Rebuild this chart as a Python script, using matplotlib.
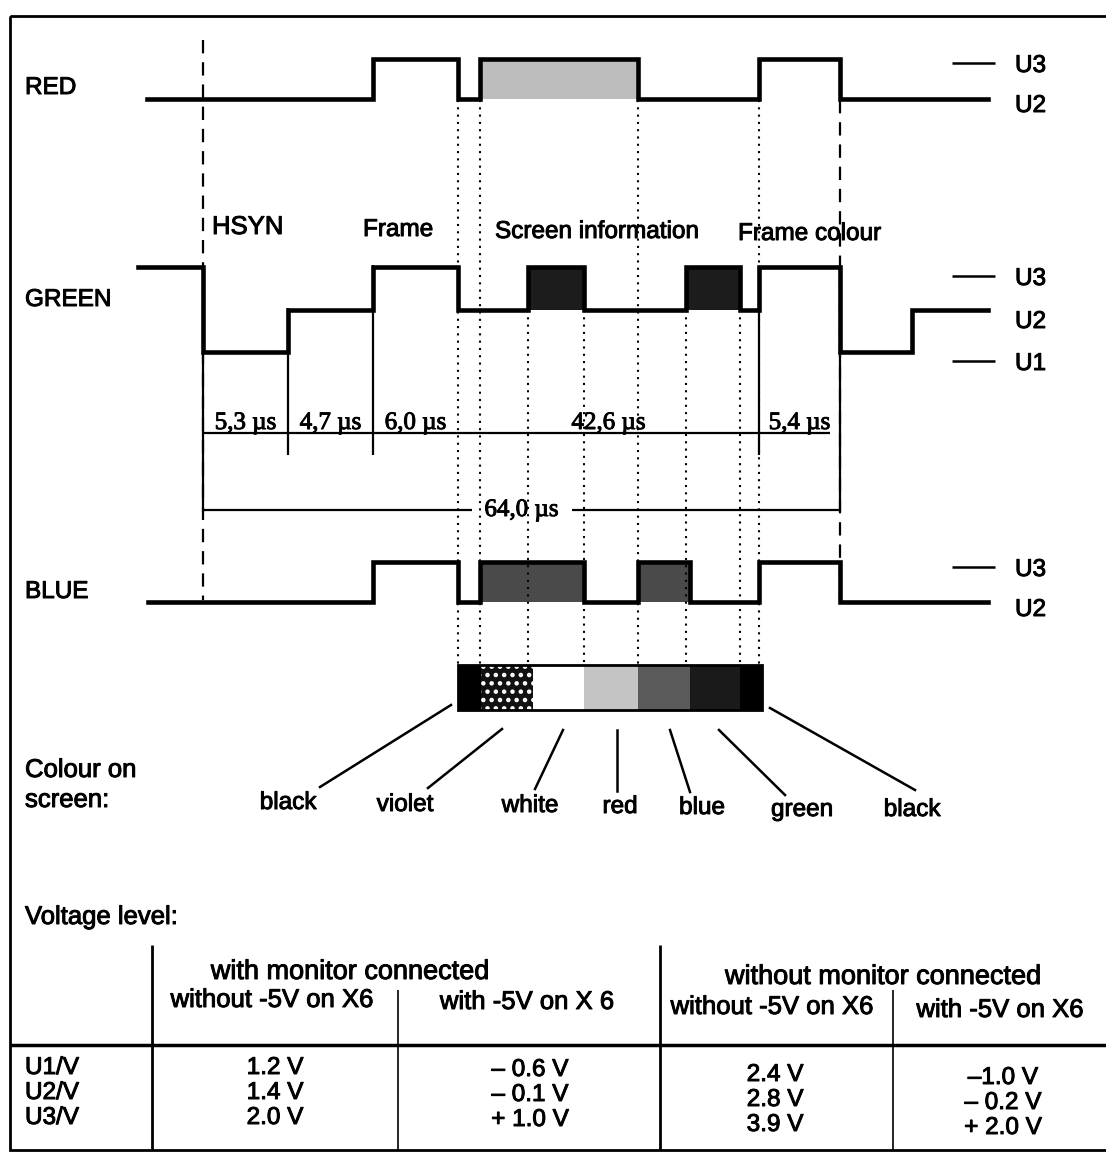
import matplotlib.pyplot as plt
import matplotlib.patheffects as pe
from matplotlib.patches import Rectangle

# --- waveforms: edge positions (diagram time axis) and the level held after each edge
red_edges = [147, 373, 458, 480, 638, 759, 840, 988]
red_levels = ["U2", "U3", "U2", "U3", "U2", "U3", "U2"]
green_edges = [138, 203, 288, 373, 458, 528, 584, 686, 740, 759, 840, 912, 988]
green_levels = ["U3", "U1", "U2", "U3", "U2", "U3", "U2", "U3", "U2", "U3", "U1", "U2"]
blue_edges = [148, 373, 458, 480, 584, 638, 690, 759, 840, 988]
blue_levels = ["U2", "U3", "U2", "U3", "U2", "U3", "U2", "U3", "U2"]

# shaded information blocks (start, end)
red_blocks = [(480, 638)]
green_blocks = [(528, 584), (686, 740)]
blue_blocks = [(480, 584), (638, 690)]

# timing annotations
seg_edges = [203, 288, 373, 458, 759, 840]
seg_labels = ["5,3 µs", "4,7 µs", "6,0 µs", "42,6 µs", "5,4 µs"]
total_label = "64,0 µs"

# colour on screen
bar_edges = [458, 481, 533, 584, 638, 690, 740, 762]
bar_names = ["black", "violet", "white", "red", "blue", "green", "black"]

# voltage table
row_names = ["U1/V", "U2/V", "U3/V"]
with_mon_no5v = ["1.2 V", "1.4 V", "2.0 V"]
with_mon_5v = ["\u2013 0.6 V", "\u2013 0.1 V", "+ 1.0 V"]
without_mon_no5v = ["2.4 V", "2.8 V", "3.9 V"]
without_mon_5v = ["\u20131.0 V", "\u2013 0.2 V", "+ 2.0 V"]

SANS = "Liberation Sans"
SERIF = "Liberation Serif"
ink = [pe.withStroke(linewidth=0.7, foreground="black")]

fig = plt.figure(figsize=(11.06, 11.52), dpi=100)
ax = fig.add_axes([0, 0, 1, 1])
ax.set_xlim(0, 1106)
ax.set_ylim(1152, 0)
ax.axis("off")


def txt(x, y, s, size=17.5, family=SANS, **kw):
    ax.text(x, y, s, fontsize=size, family=family, va="center", path_effects=ink, **kw)


# outer frame
ax.add_patch(Rectangle((10, 16), 1110, 1134, fill=False, lw=2, ec="black"))

rows = {
    "RED": {"U2": 99, "U3": 59},
    "GREEN": {"U1": 352, "U2": 310, "U3": 267},
    "BLUE": {"U2": 602, "U3": 562},
}
right_shift = {"RED": 4, "GREEN": 9, "BLUE": 5}
label_y = {"RED": 88, "GREEN": 300, "BLUE": 592}
block_col = {"RED": "#bdbdbd", "GREEN": "#1c1c1c", "BLUE": "#4a4a4a"}

# dashed sync lines and dotted timing guides
ax.vlines([203], 40, 600, colors="black", lw=1.6, linestyles=(0, (6, 4)))
ax.vlines([840], 100, 600, colors="black", lw=1.6, linestyles=(0, (6, 4)))
ax.vlines([458, 480, 638, 759], 100, 665, colors="black", lw=1.5, linestyles=(0, (1, 2.5)))
ax.vlines([528, 584, 686, 740], 310, 665, colors="black", lw=1.5, linestyles=(0, (1, 2.5)))

waves = [("RED", red_edges, red_levels, red_blocks),
         ("GREEN", green_edges, green_levels, green_blocks),
         ("BLUE", blue_edges, blue_levels, blue_blocks)]
for name, edges, levels, blocks in waves:
    lv = rows[name]
    for b0, b1 in blocks:
        ax.fill_between([b0, b1], lv["U2"], lv["U3"], color=block_col[name], lw=0)
    ys = [lv[l] for l in levels] + [lv[levels[-1]]]
    ax.step(edges, ys, where="post", color="black", lw=3.3, solid_joinstyle="miter")
    txt(25, label_y[name], name)
    for u, y in lv.items():
        yy = y + right_shift[name]
        if u != levels[-1]:
            ax.hlines(yy, 952, 995, colors="black", lw=1.8)
        txt(1015, yy + 3, u)

# section titles
txt(212, 227, "HSYN", size=18.5)
txt(363, 230, "Frame")
txt(495, 232, "Screen information")
txt(738, 234, "Frame colour")

# duration measurements
ax.hlines(433, seg_edges[0], 830, colors="black", lw=1.6)
ax.vlines([288, 373, 759], [308, 265, 268], 455, colors="black", lw=1.6)
ax.vlines([203], 352, 512, colors="black", lw=1.6)
ax.vlines([840], 352, 512, colors="black", lw=1.6)
for i, lab in enumerate(seg_labels):
    xc = (seg_edges[i] + seg_edges[i + 1]) / 2
    txt(xc, 423, lab, size=18, family=SERIF, ha="center")
xm = (seg_edges[0] + seg_edges[-1]) / 2
ax.hlines(510, seg_edges[0], xm - 50, colors="black", lw=1.6)
ax.hlines(510, xm + 50, seg_edges[-1], colors="black", lw=1.6)
txt(xm, 510, total_label, size=18, family=SERIF, ha="center")

# colour bar
plt.rcParams["hatch.linewidth"] = 2.0
bar_style = {"black": ("black", None), "violet": ("#111111", ".."), "white": ("white", None),
             "red": ("#c4c4c4", None), "blue": ("#5a5a5a", None), "green": ("#1a1a1a", None)}
for i, nm in enumerate(bar_names):
    fc, hatch = bar_style[nm]
    ax.bar(bar_edges[i], 45, width=bar_edges[i + 1] - bar_edges[i], bottom=665, align="edge",
           color=fc, hatch=hatch, edgecolor="white" if hatch else fc, lw=0)
ax.add_patch(Rectangle((bar_edges[0], 665), bar_edges[-1] - bar_edges[0], 45, fill=False, lw=2, ec="black"))

leader_top = [(451, 705), (502, 729), (563, 730), (617, 730), (670, 730), (719, 730), (770, 708)]
leader_bot = [(320, 787), (428, 788), (535, 789), (617, 791), (690, 792), (785, 795), (915, 790)]
name_x = [288, 405, 530, 620, 702, 802, 912]
name_y = [803, 805, 806, 807, 808, 810, 810]
for (x0, y0), (x1, y1), tx, ty, nm in zip(leader_top, leader_bot, name_x, name_y, bar_names):
    ax.plot([x0, x1], [y0, y1], color="black", lw=1.8)
    txt(tx, ty, nm, ha="center")
txt(25, 770, "Colour on", size=18.5)
txt(25, 800, "screen:", size=18.5)

# voltage table
txt(25, 917, "Voltage level:", size=18.5)
ax.hlines(1045, 10, 1106, colors="black", lw=2.5)
ax.vlines([152, 660], 945, 1150, colors="black", lw=2)
ax.vlines([398, 893], 990, 1150, colors="black", lw=1.2)
txt(350, 972, "with monitor connected", size=19.5, ha="center")
txt(883, 977, "without monitor connected", size=19.5, ha="center")
col_x = [272, 527, 772, 1000]
col_dy = [0, 2, 7, 10]
for cx, dy, head in zip(col_x, col_dy, ["without -5V on X6", "with -5V on X 6",
                                        "without -5V on X6", "with -5V on X6"]):
    txt(cx, 1000 + dy, head, size=18.5, ha="center")
row_y = [1068, 1093, 1118]
for j, nm in enumerate(row_names):
    txt(25, row_y[j], nm)
for k, col in enumerate([with_mon_no5v, with_mon_5v, without_mon_no5v, without_mon_5v]):
    for j, val in enumerate(col):
        txt(col_x[k] + 3, row_y[j] + col_dy[k], val, size=17.5, ha="center")

fig.savefig("out.png", dpi=100)
